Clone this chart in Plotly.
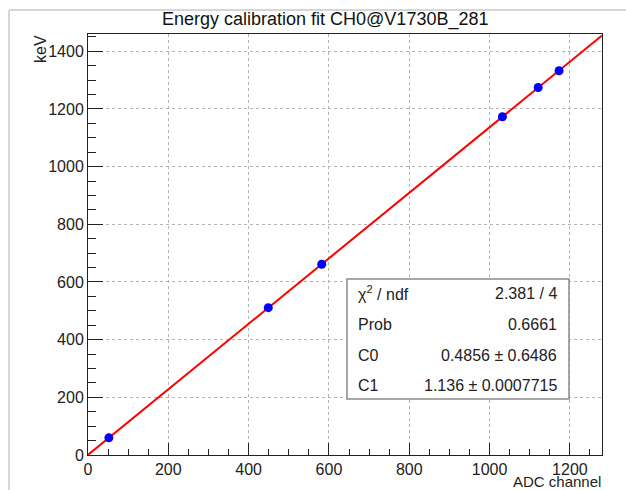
import plotly.graph_objects as go

# ---- data ----
adc_channel = [52, 449, 582, 1032, 1121, 1173]
energy_kev = [59.54, 511.0, 661.66, 1173.2, 1274.5, 1332.5]
fit_c0 = 0.4856
fit_c1 = 1.136
x_range = [0, 1280]
y_range = [0, 1460]
stats_labels = ["χ<sup>2</sup> / ndf", "Prob", "C0", "C1"]
stats_values = ["2.381 / 4", "0.6661", "0.4856 ± 0.6486", "1.136 ± 0.0007715"]
title_text = "Energy calibration fit CH0@V1730B_281"

W, H = 626, 490
L, R, T, B = 88, 602, 34, 455


def px(x):
    return (x - L) / (R - L)


def py(y):
    return (B - y) / (B - T)


FONT = "Liberation Sans, Arial, Helvetica, sans-serif"

fit_x = list(x_range)
fit_y = [fit_c0 + fit_c1 * v for v in fit_x]

fig = go.Figure()
fig.add_trace(go.Scatter(x=fit_x, y=fit_y, mode="lines",
                         line=dict(color="#ff0000", width=2), showlegend=False,
                         hoverinfo="skip"))
fig.add_trace(go.Scatter(x=adc_channel, y=energy_kev, mode="markers",
                         marker=dict(color="#0000ff", size=9, line=dict(width=0)),
                         showlegend=False))

axis_common = dict(
    showline=True, mirror=True, linecolor="#222222", linewidth=1,
    ticks="inside", tickcolor="#222222", tickwidth=1,
    showgrid=True, gridcolor="#b5b5b5", griddash="dot", gridwidth=1,
    zeroline=False,
    tickfont=dict(family=FONT, size=16, color="#222222"),
    dtick=200, tick0=0,
)

fig.update_xaxes(range=x_range, ticklen=12,
                 minor=dict(dtick=50, tick0=0, ticklen=6, ticks="inside",
                            tickcolor="#222222", showgrid=False),
                 **axis_common)
fig.update_yaxes(range=y_range, ticklen=15,
                 minor=dict(dtick=50, tick0=0, ticklen=8, ticks="inside",
                            tickcolor="#222222", showgrid=False),
                 **axis_common)

shapes = []
# outer window frame (left and top)
shapes.append(dict(type="line", xref="paper", yref="paper",
                   x0=px(9), x1=px(9), y0=py(10), y1=py(490),
                   line=dict(color="#d6d6d6", width=2)))
shapes.append(dict(type="line", xref="paper", yref="paper",
                   x0=px(9), x1=px(626), y0=py(10), y1=py(10),
                   line=dict(color="#d6d6d6", width=2)))
# stats box
shapes.append(dict(type="rect", xref="paper", yref="paper",
                   x0=px(347), x1=px(569), y0=py(399), y1=py(279),
                   line=dict(color="#8a8a8a", width=1.5), fillcolor="white",
                   layer="above"))

annotations = []
annotations.append(dict(text=title_text, xref="paper", yref="paper",
                        x=px(325), y=py(20), xanchor="center", yanchor="middle",
                        showarrow=False, font=dict(family=FONT, size=18, color="#111111")))
annotations.append(dict(text="keV", xref="paper", yref="paper",
                        x=px(40), y=py(33), xanchor="center", yanchor="top",
                        textangle=-90, showarrow=False,
                        font=dict(family=FONT, size=16, color="#222222")))
annotations.append(dict(text="ADC channel", xref="paper", yref="paper",
                        x=px(602), y=py(481), xanchor="right", yanchor="middle",
                        borderpad=0,
                        showarrow=False, font=dict(family=FONT, size=15, color="#222222")))
row_y = [293, 324, 355, 385]
for lab, val, yy in zip(stats_labels, stats_values, row_y):
    annotations.append(dict(text=lab, xref="paper", yref="paper",
                            x=px(356), y=py(yy), xanchor="left", yanchor="middle",
                            showarrow=False, font=dict(family=FONT, size=16, color="#222222")))
    annotations.append(dict(text=val, xref="paper", yref="paper",
                            x=px(559), y=py(yy), xanchor="right", yanchor="middle",
                            showarrow=False, font=dict(family=FONT, size=16, color="#222222")))

fig.update_layout(
    width=W, height=H,
    margin=dict(l=L, r=W - R, t=T, b=H - B, pad=0),
    paper_bgcolor="white", plot_bgcolor="white",
    shapes=shapes, annotations=annotations,
    showlegend=False,
)

fig.write_html("out.html")
